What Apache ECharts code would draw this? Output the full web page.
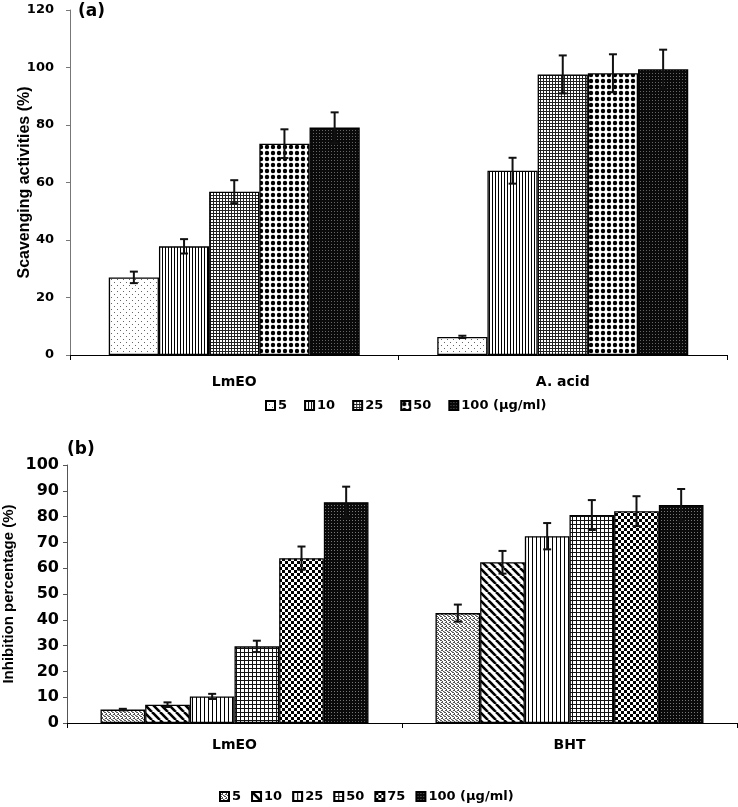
<!DOCTYPE html>
<html>
<head>
<meta charset="utf-8">
<script src="https://cdn.jsdelivr.net/npm/echarts@6/dist/echarts.min.js"></script>
<style>html,body{margin:0;padding:0;background:#fff}#c{width:738px;height:807px}</style>
</head>
<body>
<div id="c"></div>
<script>
// ---------- DATA ----------
const categoriesA = ['LmEO', 'A. acid'];
const seriesNamesA = ['5', '10', '25', '50', '100 (µg/ml)'];
const valuesA5 = [27.0, 6.3];
const valuesA10 = [37.8, 64.1];
const valuesA25 = [56.8, 97.6];
const valuesA50 = [73.5, 98.0];
const valuesA100 = [79.1, 99.4];
const errorsA5 = [2.0, 0.4];
const errorsA10 = [2.5, 4.5];
const errorsA25 = [4.0, 6.6];
const errorsA50 = [5.0, 6.6];
const errorsA100 = [5.3, 6.8];
const yTicksA = { min: 0, max: 120, interval: 20 };

const categoriesB = ['LmEO', 'BHT'];
const seriesNamesB = ['5', '10', '25', '50', '75', '100 (µg/ml)'];
const valuesB5 = [5.2, 42.6];
const valuesB10 = [7.1, 62.3];
const valuesB25 = [10.3, 72.4];
const valuesB50 = [29.7, 80.6];
const valuesB75 = [63.9, 82.1];
const valuesB100 = [85.6, 84.5];
const errorsB5 = [0.3, 3.3];
const errorsB10 = [0.9, 4.4];
const errorsB25 = [1.0, 5.1];
const errorsB50 = [2.2, 5.8];
const errorsB75 = [4.5, 5.8];
const errorsB100 = [6.0, 6.2];
const yTicksB = { min: 0, max: 100, interval: 10 };

const valuesA = [valuesA5, valuesA10, valuesA25, valuesA50, valuesA100];
const errorsA = [errorsA5, errorsA10, errorsA25, errorsA50, errorsA100];
const valuesB = [valuesB5, valuesB10, valuesB25, valuesB50, valuesB75, valuesB100];
const errorsB = [errorsB5, errorsB10, errorsB25, errorsB50, errorsB75, errorsB100];

// ---------- PATTERNS ----------
function pat(w, h, bg, draw) {
  const c = document.createElement('canvas');
  c.width = w; c.height = h;
  const g = c.getContext('2d');
  g.fillStyle = bg; g.fillRect(0, 0, w, h);
  draw(g, w, h);
  return { image: c, repeat: 'repeat' };
}
const patternsA = [
  pat(6, 6, '#fff', g => { g.fillStyle = '#666'; g.fillRect(0, 0, 1, 1); g.fillRect(3, 3, 1, 1); }),
  pat(3, 3, '#fff', g => { g.fillStyle = '#000'; g.fillRect(0, 0, 1, 3); }),
  pat(3, 3, '#fff', g => { g.fillStyle = '#222'; g.fillRect(0, 0, 1, 3); g.fillRect(0, 0, 3, 1); }),
  pat(6, 6, '#fff', g => { g.fillStyle = '#000'; g.beginPath(); g.arc(3, 3, 2.2, 0, Math.PI * 2); g.fill(); }),
  pat(3, 3, '#0a0a0a', g => { g.fillStyle = '#666'; g.fillRect(1, 1, 1, 1); })
];
const patternsB = [
  pat(4, 4, '#fff', g => { g.fillStyle = '#555'; g.fillRect(0, 0, 2, 1); g.fillRect(2, 1, 1, 1); g.fillRect(1, 2, 2, 1); g.fillRect(3, 3, 1, 1); g.fillStyle = '#aaa'; g.fillRect(0, 3, 1, 1); }),
  pat(8, 8, '#fff', g => { g.strokeStyle = '#000'; g.lineWidth = 2.6; for (let k = -16; k <= 16; k += 8) { g.beginPath(); g.moveTo(k, 0); g.lineTo(k + 8, 8); g.stroke(); } }),
  pat(4, 4, '#fff', g => { g.fillStyle = '#000'; g.fillRect(0, 0, 1, 4); }),
  pat(4, 4, '#fff', g => { g.fillStyle = '#111'; g.fillRect(0, 0, 1, 4); g.fillRect(0, 0, 4, 1); }),
  pat(6, 6, '#fff', g => { g.fillStyle = '#000'; g.fillRect(0, 0, 3, 3); g.fillRect(3, 3, 3, 3); }),
  pat(3, 3, '#0a0a0a', g => { g.fillStyle = '#777'; g.fillRect(1, 1, 1, 1); })
];

// ---------- BUILD ----------
const gapA = 0.236, gapB = 0.20;
function errRender(n, idx, gap) {
  return function (params, api) {
    const cat = api.value(0), v = api.value(1), e = api.value(2);
    const band = api.size([1, 0])[0];
    const bw = band * (1 - gap) / n;
    const cx = api.coord([cat, v])[0] + (idx - (n - 1) / 2) * bw;
    const yT = api.coord([cat, v + e])[1];
    const yB = api.coord([cat, v - e])[1];
    const st = { stroke: '#111', lineWidth: 2 };
    return {
      type: 'group',
      children: [
        { type: 'line', shape: { x1: cx, y1: yT, x2: cx, y2: yB }, style: st },
        { type: 'line', shape: { x1: cx - 4, y1: yT, x2: cx + 4, y2: yT }, style: st },
        { type: 'line', shape: { x1: cx - 4, y1: yB, x2: cx + 4, y2: yB }, style: st }
      ]
    };
  };
}

const series = [];
seriesNamesA.forEach((nm, i) => {
  series.push({
    type: 'bar', name: 'a:' + nm, xAxisIndex: 0, yAxisIndex: 0,
    data: valuesA[i], barGap: '0%', barCategoryGap: (gapA * 100) + '%',
    itemStyle: { color: patternsA[i], borderColor: '#000', borderWidth: 1.3 },
    emphasis: { disabled: true }, animation: false
  });
});
seriesNamesA.forEach((nm, i) => {
  series.push({
    type: 'custom', name: 'errA' + i, xAxisIndex: 0, yAxisIndex: 0, z: 5,
    data: categoriesA.map((c, k) => [k, valuesA[i][k], errorsA[i][k]]),
    renderItem: errRender(seriesNamesA.length, i, gapA), silent: true, animation: false
  });
});
seriesNamesB.forEach((nm, i) => {
  series.push({
    type: 'bar', name: 'b:' + nm, xAxisIndex: 1, yAxisIndex: 1,
    data: valuesB[i], barGap: '0%', barCategoryGap: (gapB * 100) + '%',
    itemStyle: { color: patternsB[i], borderColor: '#000', borderWidth: 1.3 },
    emphasis: { disabled: true }, animation: false
  });
});
seriesNamesB.forEach((nm, i) => {
  series.push({
    type: 'custom', name: 'errB' + i, xAxisIndex: 1, yAxisIndex: 1, z: 5,
    data: categoriesB.map((c, k) => [k, valuesB[i][k], errorsB[i][k]]),
    renderItem: errRender(seriesNamesB.length, i, gapB), silent: true, animation: false
  });
});

const BOLD = 'bold';
const xAxisCommon = {
  type: 'category',
  axisLine: { lineStyle: { color: '#000', width: 1 } },
  axisTick: { show: true, length: 5, lineStyle: { color: '#000' } },
  splitLine: { show: false }
};
const chart = echarts.init(document.getElementById('c'), null, { renderer: 'canvas' });
chart.setOption({
  animation: false,
  backgroundColor: '#fff',
  title: [
    { text: '(a)', left: 78, top: 3, padding: 0, textStyle: { fontFamily: 'DejaVu Sans', fontWeight: BOLD, fontSize: 17, color: '#000' } },
    { text: '(b)', left: 67, top: 441, padding: 0, textStyle: { fontFamily: 'DejaVu Sans', fontWeight: BOLD, fontSize: 17, color: '#000' } }
  ],
  grid: [
    { left: 70, right: 11, top: 10, height: 345, containLabel: false, outerBoundsMode: 'none' },
    { left: 67, right: 1, top: 465, height: 258, containLabel: false, outerBoundsMode: 'none' }
  ],
  xAxis: [
    Object.assign({}, xAxisCommon, { gridIndex: 0, data: categoriesA,
      axisLabel: { margin: 20, color: '#000', fontFamily: 'DejaVu Sans', fontWeight: BOLD, fontSize: 14 } }),
    Object.assign({}, xAxisCommon, { gridIndex: 1, data: categoriesB,
      axisLabel: { margin: 15, color: '#000', fontFamily: 'DejaVu Sans', fontWeight: BOLD, fontSize: 14 } })
  ],
  yAxis: [
    { type: 'value', gridIndex: 0, min: yTicksA.min, max: yTicksA.max, interval: yTicksA.interval,
      name: 'Scavenging activities (%)', nameLocation: 'middle', nameRotate: 90, nameGap: 45, nameMoveOverlap: false,
      nameTextStyle: { fontFamily: 'Liberation Sans', fontWeight: BOLD, fontSize: 16, color: '#000', verticalAlign: 'middle' },
      axisLine: { show: true, lineStyle: { color: '#777', width: 1 } },
      axisTick: { show: true, length: 4, lineStyle: { color: '#777' } },
      splitLine: { show: false },
      axisLabel: { margin: 16, color: '#000', fontFamily: 'DejaVu Sans', fontWeight: BOLD, fontSize: 13 } },
    { type: 'value', gridIndex: 1, min: yTicksB.min, max: yTicksB.max, interval: yTicksB.interval,
      name: 'Inhibition percentage (%)', nameLocation: 'middle', nameRotate: 90, nameGap: 58, nameMoveOverlap: false,
      nameTextStyle: { fontFamily: 'Liberation Sans', fontWeight: BOLD, fontSize: 15, color: '#000', verticalAlign: 'middle' },
      axisLine: { show: true, lineStyle: { color: '#555', width: 1 } },
      axisTick: { show: true, length: 4, lineStyle: { color: '#555' } },
      splitLine: { show: false },
      axisLabel: { margin: 8, color: '#000', fontFamily: 'DejaVu Sans', fontWeight: BOLD, fontSize: 16 } }
  ],
  legend: [
    { data: seriesNamesA.map(n => 'a:' + n), left: 265, top: 399, padding: 0,
      itemWidth: 9, itemHeight: 9, itemGap: 17, icon: 'rect', selectedMode: false,
      formatter: n => n.slice(2),
      textStyle: { fontFamily: 'DejaVu Sans', fontWeight: BOLD, fontSize: 13, color: '#000', padding: [0, 0, 0, -2] } },
    { data: seriesNamesB.map(n => 'b:' + n), left: 219, top: 790, padding: 0,
      itemWidth: 9, itemHeight: 9, itemGap: 10, icon: 'rect', selectedMode: false,
      formatter: n => n.slice(2),
      textStyle: { fontFamily: 'DejaVu Sans', fontWeight: BOLD, fontSize: 13, color: '#000', padding: [0, 0, 0, -2] } }
  ],
  series: series
});
</script>
</body>
</html>
